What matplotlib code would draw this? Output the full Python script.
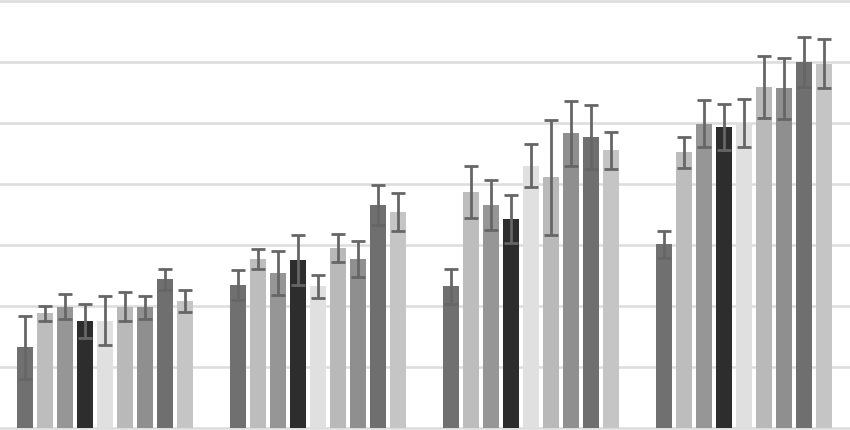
import matplotlib
matplotlib.use("Agg")
import matplotlib.pyplot as plt
import numpy as np

groups = ["G1", "G2", "G3", "G4"]
series_names = ["S1", "S2", "S3", "S4", "S5", "S6", "S7", "S8", "S9"]

values = [
    [1.32, 1.88, 1.99, 1.76, 1.76, 1.99, 1.98, 2.44, 2.08],
    [2.34, 2.77, 2.54, 2.75, 2.32, 2.95, 2.77, 3.66, 3.54],
    [2.32, 3.87, 3.66, 3.43, 4.30, 4.11, 4.83, 4.77, 4.55],
    [3.01, 4.52, 4.99, 4.93, 5.00, 5.59, 5.57, 6.00, 5.97],
]
errors = [
    [0.52, 0.12, 0.21, 0.28, 0.40, 0.24, 0.19, 0.17, 0.18],
    [0.25, 0.17, 0.36, 0.41, 0.19, 0.23, 0.30, 0.33, 0.31],
    [0.28, 0.43, 0.41, 0.39, 0.35, 0.94, 0.53, 0.52, 0.31],
    [0.22, 0.25, 0.38, 0.38, 0.39, 0.51, 0.50, 0.41, 0.40],
]
colors = ["#707070", "#bdbdbd", "#969696", "#2d2d2d", "#e0e0e0",
          "#b9b9b9", "#8f8f8f", "#6f6f6f", "#c5c5c5"]

fig = plt.figure(figsize=(8.5, 4.3), dpi=100)
ax = fig.add_axes([0, 0, 1, 1])

x = np.arange(len(groups))
n = len(series_names)
pitch = 0.0939
width = 0.076
vals = np.array(values)
errs = np.array(errors)
for i in range(n):
    offs = (i - (n - 1) / 2) * pitch
    ax.bar(x + offs, vals[:, i], width=width, color=colors[i], zorder=2,
           edgecolor="none")
    ax.errorbar(x + offs, vals[:, i], yerr=errs[:, i], fmt="none",
                ecolor="#666666", elinewidth=2.0, capsize=5.2, capthick=2.0,
                zorder=3)

ax.set_xlim(-0.493, 3.498)
ax.set_ylim(-0.033, 7.016)
ax.set_yticks(np.arange(0, 8, 1))
ax.yaxis.grid(True, color="#dcdcdc", linewidth=1.8, zorder=0)
ax.set_axisbelow(True)
ax.tick_params(left=False, bottom=False, labelleft=False, labelbottom=False)
for s in ax.spines.values():
    s.set_visible(False)

fig.savefig("out.png", dpi=100)
